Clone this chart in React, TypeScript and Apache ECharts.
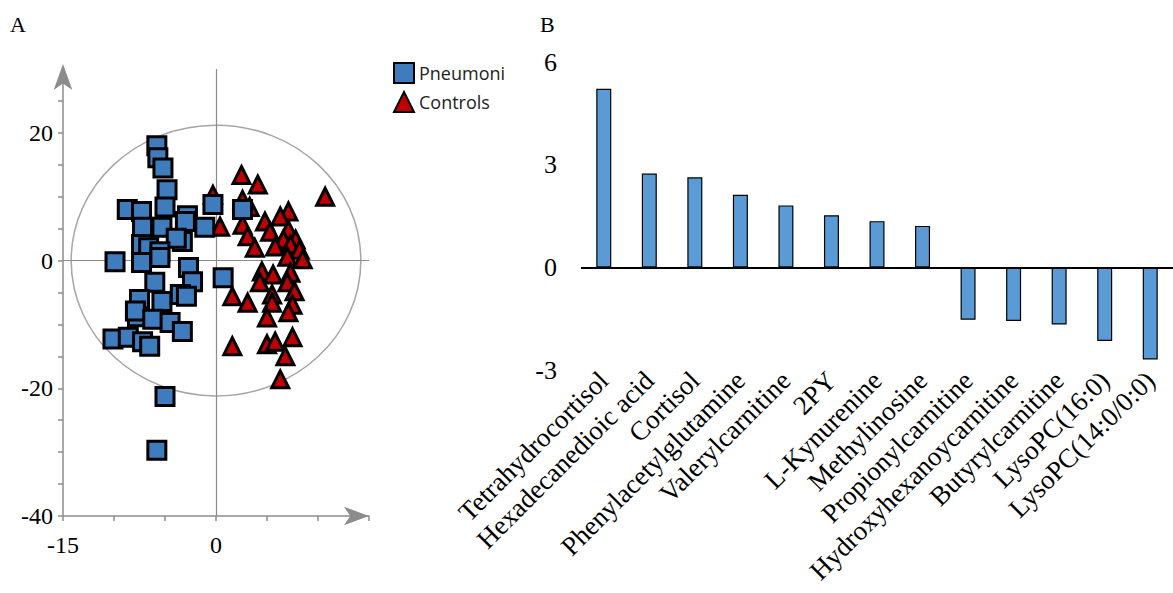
import React, { useEffect, useRef } from "react";
import * as echarts from "echarts";

const pneumoniPoints: number[][] = [
  [-5.8, 18.0], [-5.7, 16.1], [-5.2, 14.5], [-4.8, 11.1], [-5.0, 8.4], [-8.7, 8.0], [-7.3, 7.7],
  [-2.8, 7.0], [-3.0, 6.1], [-0.3, 8.8], [2.6, 8.0], [-1.1, 5.2], [-7.2, 5.2], [-5.3, 5.2],
  [-3.3, 3.0], [-3.9, 3.5], [-7.3, 2.5], [-6.6, 2.0], [-5.5, 1.4], [-9.9, -0.2], [-7.3, -0.3],
  [-5.5, 0.5], [-2.7, -1.1], [-2.3, -3.3], [-6.0, -3.4], [0.7, -2.7], [-7.5, -6.1], [-5.3, -6.4],
  [-3.5, -5.3], [-2.9, -5.6], [-7.7, -8.8], [-7.9, -7.9], [-6.2, -9.2], [-4.5, -9.7], [-3.3, -11.1],
  [-10.1, -12.3], [-8.6, -12.0], [-7.2, -12.7], [-6.5, -13.4], [-5.0, -21.3], [-5.8, -29.7],
];

const controlsPoints: number[][] = [
  [2.5, 13.4], [4.1, 11.9], [-0.3, 10.3], [2.6, 9.5], [3.3, 8.4], [10.7, 10.0], [0.4, 5.3],
  [4.8, 6.1], [7.1, 7.7], [6.3, 6.9], [2.6, 5.6], [3.1, 3.8], [5.3, 4.5], [7.1, 4.8], [6.6, 3.3],
  [7.8, 3.3], [3.8, 2.0], [5.8, 2.2], [7.3, 2.5], [8.2, 1.7], [7.0, 0.6], [8.5, 0.2], [4.5, -1.7],
  [5.6, -2.2], [7.3, -1.9], [4.3, -3.4], [7.0, -3.4], [1.6, -5.6], [3.1, -6.6], [5.5, -5.3],
  [7.7, -4.8], [5.5, -6.6], [7.5, -6.9], [5.0, -8.9], [7.1, -8.1], [1.6, -13.4], [5.0, -13.1],
  [5.8, -12.7], [7.5, -12.0], [6.8, -15.0], [6.3, -18.6],
];

const ellipseRadiusX = 14.2;
const ellipseRadiusY = 21.2;

const scatterXLabels = [-15, 0];
const scatterYLabels = [20, 0, -20, -40];

const metabolites = [
  "Tetrahydrocortisol", "Hexadecanedioic acid", "Cortisol", "Phenylacetylglutamine",
  "Valerylcarnitine", "2PY", "L-Kynurenine", "Methylinosine", "Propionylcarnitine",
  "Hydroxyhexanoycarnitine", "Butyrylcarnitine", "LysoPC(16:0)", "LysoPC(14:0/0:0)",
];
const foldValues = [5.22, 2.74, 2.63, 2.12, 1.81, 1.52, 1.35, 1.21, -1.53, -1.57, -1.67, -2.15, -2.69];
const barYLabels = [6, 3, 0, -3];

const SERIF = "'Liberation Serif', 'Times New Roman', serif";
const GRAY = "#8c8c8c";

export default function App() {
  const ref = useRef<HTMLDivElement>(null);
  useEffect(() => {
    if (!ref.current) return;
    const chart = echarts.init(ref.current, undefined, { renderer: "svg" });
    const letters = [
      { type: "text", id: "A", left: 10, top: 13, style: { text: "A", font: `22px ${SERIF}`, fill: "#000" } },
      { type: "text", id: "B", left: 540, top: 13, style: { text: "B", font: `22px ${SERIF}`, fill: "#000" } },
    ];
    chart.setOption({
      animation: false,
      backgroundColor: "#fff",
      legend: {
        data: ["Pneumoni", "Controls"],
        orient: "vertical",
        left: 388,
        top: 57,
        itemWidth: 20,
        itemHeight: 20,
        itemGap: 7,
        textStyle: { fontFamily: "'Open Sans', sans-serif", fontSize: 18, color: "#222" },
      },
      grid: [
        { left: 63, top: 69, width: 306, height: 447 },
        { left: 581, top: 62, width: 598, height: 308 },
      ],
      xAxis: [
        {
          type: "value",
          gridIndex: 0,
          min: -15,
          max: 15,
          interval: 5,
          splitLine: { show: false },
          axisLine: {
            onZero: false,
            lineStyle: { color: GRAY, width: 1.5 },
            symbol: ["none", "arrow"],
            symbolSize: [14, 25],
            symbolOffset: [0, 0],
          },
          axisTick: { inside: false, length: 5, lineStyle: { color: GRAY, width: 1.5 } },
          axisLabel: {
            fontFamily: SERIF,
            fontSize: 24,
            color: "#000",
            margin: 17,
            formatter: (v: number) => (scatterXLabels.includes(v) ? String(v) : ""),
          },
        },
        {
          type: "category",
          gridIndex: 1,
          data: metabolites,
          axisLine: { show: false, onZero: false },
          axisTick: { show: false },
          axisLabel: {
            interval: 0,
            rotate: 45,
            fontFamily: SERIF,
            fontSize: 27,
            color: "#000",
            margin: 6,
          },
        },
      ],
      yAxis: [
        {
          type: "value",
          gridIndex: 0,
          min: -40,
          max: 30,
          interval: 5,
          splitLine: { show: false },
          axisLine: {
            onZero: false,
            lineStyle: { color: GRAY, width: 1.5 },
            symbol: ["none", "arrow"],
            symbolSize: [14, 26],
            symbolOffset: [0, 5],
          },
          axisTick: { inside: false, length: 5, lineStyle: { color: GRAY, width: 1.5 } },
          axisLabel: {
            fontFamily: SERIF,
            fontSize: 24,
            color: "#000",
            margin: 10,
            showMaxLabel: false,
            formatter: (v: number) => (scatterYLabels.includes(v) ? String(v) : ""),
          },
        },
        {
          type: "value",
          gridIndex: 1,
          min: -3,
          max: 6,
          interval: 1.5,
          splitLine: { show: false },
          axisLine: { onZero: false, lineStyle: { color: "#000", width: 2 } },
          axisTick: { inside: false, length: 8, lineStyle: { color: "#000", width: 2 } },
          axisLabel: {
            fontFamily: SERIF,
            fontSize: 26,
            color: "#000",
            margin: 24,
            formatter: (v: number) => (barYLabels.includes(v) ? String(v) : ""),
          },
        },
      ],
      series: [
        {
          name: "Controls",
          type: "scatter",
          xAxisIndex: 0,
          yAxisIndex: 0,
          data: controlsPoints,
          symbol: "triangle",
          symbolSize: 17,
          z: 3,
          itemStyle: { color: "#C00000", borderColor: "#000", borderWidth: 3, opacity: 1 },
          markLine: {
            silent: true,
            symbol: "none",
            label: { show: false },
            lineStyle: { color: GRAY, width: 1.2, type: "solid" },
            data: [{ xAxis: 0 }, { yAxis: 0 }],
            z: 1,
          },
        },
        {
          name: "Pneumoni",
          type: "scatter",
          xAxisIndex: 0,
          yAxisIndex: 0,
          data: pneumoniPoints,
          symbol: "rect",
          symbolSize: 18,
          z: 4,
          itemStyle: { color: "#3E7CBE", borderColor: "#000", borderWidth: 3, opacity: 1 },
        },
        {
          name: "Fold",
          type: "bar",
          xAxisIndex: 1,
          yAxisIndex: 1,
          data: foldValues,
          barWidth: 15,
          itemStyle: { color: "#5B9BD5", borderColor: "#000", borderWidth: 1.2 },
          markLine: {
            silent: true,
            symbol: "none",
            label: { show: false },
            lineStyle: { color: "#000", width: 2, type: "solid" },
            data: [{ yAxis: 0 }],
          },
        },
      ],
      graphic: letters,
    });
    const c = chart.convertToPixel({ xAxisIndex: 0, yAxisIndex: 0 }, [0, 0]) as number[];
    const e = chart.convertToPixel({ xAxisIndex: 0, yAxisIndex: 0 }, [ellipseRadiusX, ellipseRadiusY]) as number[];
    chart.setOption({
      graphic: [
        ...letters,
        {
          type: "ellipse",
          id: "hotelling",
          z: 1,
          shape: { cx: c[0], cy: c[1], rx: e[0] - c[0], ry: c[1] - e[1] },
          style: { fill: "none", stroke: "#A6A6A6", lineWidth: 1.5 },
          silent: true,
        },
      ],
    });
    return () => chart.dispose();
  }, []);
  return <div ref={ref} style={{ position: "fixed", left: 0, top: 0, width: 1173, height: 593 }} />;
}
